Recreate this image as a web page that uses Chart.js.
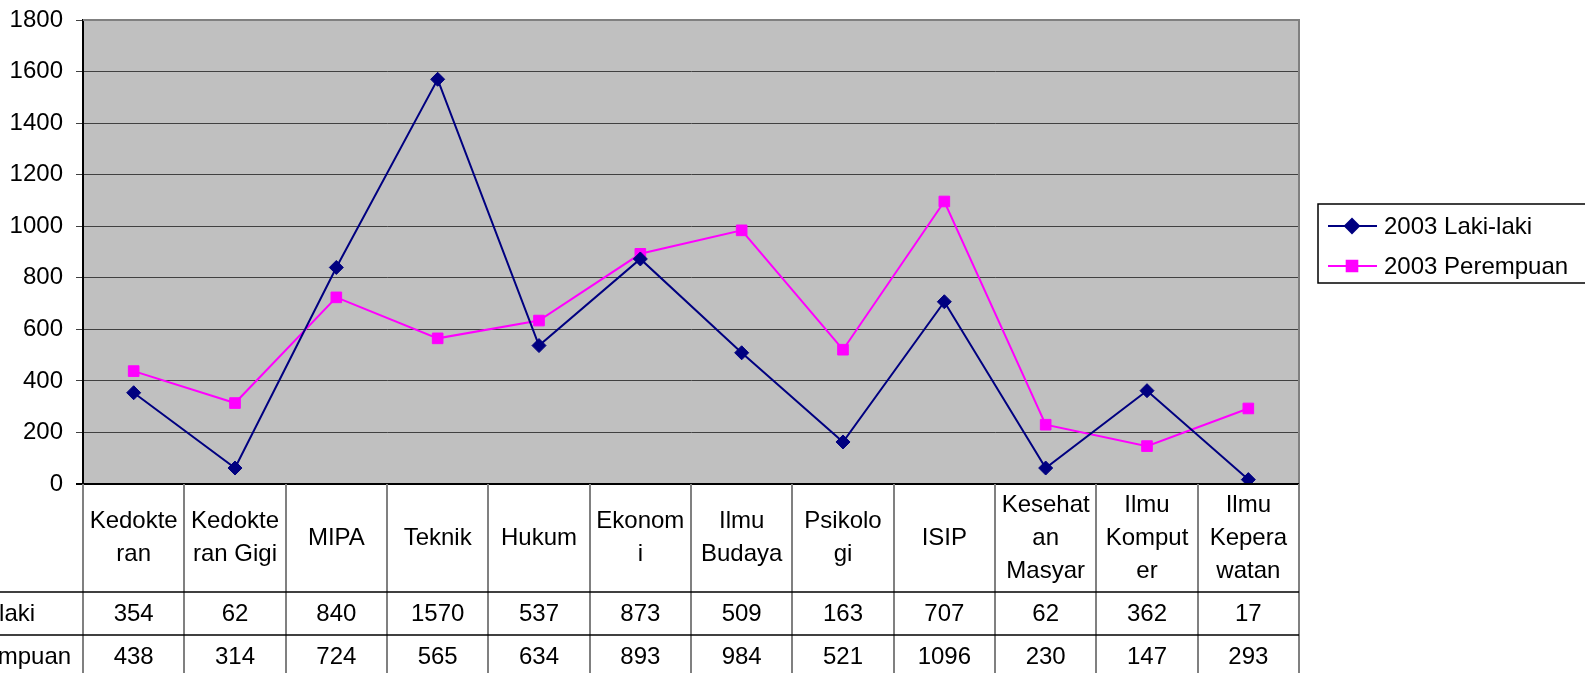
<!DOCTYPE html>
<html>
<head>
<meta charset="utf-8">
<script src="https://cdn.jsdelivr.net/npm/chart.js@4"></script>
<style>
  html, body { margin: 0; padding: 0; background: #fff; overflow: hidden; }
  canvas { display: block; }
</style>
</head>
<body>
<canvas id="c" width="1585" height="673"></canvas>
<script>
// Jumlah mahasiswa 2003 per fakultas — line chart with data table underneath

const categories = [
  ['Kedokte', 'ran'], ['Kedokte', 'ran Gigi'], ['MIPA'], ['Teknik'], ['Hukum'],
  ['Ekonom', 'i'], ['Ilmu', 'Budaya'], ['Psikolo', 'gi'], ['ISIP'],
  ['Kesehat', 'an', 'Masyar'], ['Ilmu', 'Komput', 'er'], ['Ilmu', 'Kepera', 'watan']
];
const lakiLaki = [354, 62, 840, 1570, 537, 873, 509, 163, 707, 62, 362, 17];
const perempuan = [438, 314, 724, 565, 634, 893, 984, 521, 1096, 230, 147, 293];
const seriesNames = ['2003 Laki-laki', '2003 Perempuan'];

const FAMILY = '"Liberation Sans", Arial, sans-serif';
const FONT = '24px ' + FAMILY;

// grey plot background + border
const plotBg = {
  id: 'plotBg',
  beforeDraw(chart) {
    const { ctx, chartArea: a } = chart;
    ctx.save();
    ctx.fillStyle = '#c0c0c0';
    ctx.fillRect(a.left, a.top, a.right - a.left, a.bottom - a.top);
    ctx.restore();
  },
  afterDatasetsDraw(chart) {
    const { ctx, chartArea: a } = chart;
    ctx.save();
    ctx.strokeStyle = '#808080';
    ctx.lineWidth = 2;
    ctx.beginPath();
    ctx.moveTo(a.left, a.top); ctx.lineTo(a.right, a.top); ctx.lineTo(a.right, a.bottom);
    ctx.stroke();
    ctx.strokeStyle = '#000';
    ctx.beginPath();
    ctx.moveTo(a.left - 7, a.bottom); ctx.lineTo(a.right, a.bottom);
    ctx.stroke();
    ctx.restore();
  }
};

// data table under the plot, columns follow the x scale
const dataTable = {
  id: 'dataTable',
  afterDraw(chart) {
    const { ctx, chartArea: a, scales: { x } } = chart;
    const n = chart.data.labels.length;
    const half = (x.getPixelForValue(1) - x.getPixelForValue(0)) / 2;
    const bottom = chart.height;
    const catH = 108, rowH = 43, lineH = 33;
    const row1 = a.bottom + catH, row2 = row1 + rowH;

    ctx.save();
    ctx.strokeStyle = '#808080';
    ctx.lineWidth = 2;
    for (let i = 0; i <= n; i++) {
      const xb = Math.round(x.getPixelForValue(0) - half + i * 2 * half);
      ctx.beginPath(); ctx.moveTo(xb, a.bottom); ctx.lineTo(xb, bottom); ctx.stroke();
    }
    ctx.strokeStyle = '#000';
    ctx.lineWidth = 1.5;
    const right = x.getPixelForValue(n - 1) + half;
    [row1, row2].forEach(y => {
      ctx.beginPath(); ctx.moveTo(0, y); ctx.lineTo(right, y); ctx.stroke();
    });

    ctx.fillStyle = '#000';
    ctx.font = FONT;
    ctx.textAlign = 'center';
    ctx.textBaseline = 'middle';
    chart.data.labels.forEach((lines, i) => {
      const cx = x.getPixelForValue(i);
      const y0 = a.bottom + catH / 2 - (lines.length - 1) * lineH / 2;
      lines.forEach((t, k) => ctx.fillText(t, cx, y0 + k * lineH));
    });
    chart.data.datasets.forEach((ds, d) => {
      const cy = (d === 0 ? row1 : row2) + rowH / 2 + 1;
      ds.data.forEach((v, i) => ctx.fillText(String(v), x.getPixelForValue(i), cy));
      ctx.textAlign = 'left';
      ctx.fillText(ds.label, -113, cy);
      ctx.textAlign = 'center';
    });
    ctx.restore();
  }
};

// boxed legend on the right
const boxLegend = {
  id: 'boxLegend',
  afterDraw(chart) {
    const { ctx } = chart;
    const bx = 1318, by = 204, bw = 300, bh = 79;
    ctx.save();
    ctx.fillStyle = '#fff';
    ctx.fillRect(bx, by, bw, bh);
    ctx.strokeStyle = '#000';
    ctx.lineWidth = 1.5;
    ctx.strokeRect(bx, by, bw, bh);
    ctx.font = FONT;
    ctx.textBaseline = 'middle';
    ctx.textAlign = 'left';
    chart.data.datasets.forEach((ds, i) => {
      const y = 226 + i * 40;
      ctx.strokeStyle = ds.borderColor;
      ctx.lineWidth = ds.borderWidth;
      ctx.beginPath(); ctx.moveTo(1328, y); ctx.lineTo(1377, y); ctx.stroke();
      ctx.fillStyle = ds.pointBackgroundColor;
      ctx.strokeStyle = ds.pointBorderColor;
      Chart.helpers.drawPoint(ctx, { pointStyle: ds.pointStyle, radius: ds.pointRadius, rotation: 0, borderWidth: 1 }, 1352, y);
      ctx.fillStyle = '#000';
      ctx.fillText(ds.label, 1384, y + 1);
    });
    ctx.restore();
  }
};

new Chart(document.getElementById('c').getContext('2d'), {
  type: 'line',
  data: {
    labels: categories,
    datasets: [
      {
        label: seriesNames[0], data: lakiLaki,
        borderColor: '#000080', borderWidth: 2,
        pointStyle: 'rectRot', pointRadius: 7,
        pointBackgroundColor: '#000080', pointBorderColor: '#000080', pointBorderWidth: 1,
        tension: 0
      },
      {
        label: seriesNames[1], data: perempuan,
        borderColor: '#ff00ff', borderWidth: 2,
        pointStyle: 'rect', pointRadius: 7.5,
        pointBackgroundColor: '#ff00ff', pointBorderColor: '#ff00ff', pointBorderWidth: 1,
        tension: 0
      }
    ]
  },
  options: {
    responsive: false,
    animation: false,
    devicePixelRatio: 1,
    layout: { padding: { top: 20, right: 286, bottom: 189, left: 0 } },
    plugins: { legend: { display: false }, tooltip: { enabled: false } },
    scales: {
      x: { display: false, offset: true },
      y: {
        min: 0, max: 1800,
        afterFit: s => { s.width = 83; s.paddingTop = 0; s.paddingBottom = 0; },
        ticks: { stepSize: 200, color: '#000', font: { family: FAMILY, size: 24 }, padding: 13, callback: v => String(v) },
        grid: { color: '#404040', lineWidth: 1, tickLength: 7 },
        border: { color: '#000', width: 2 }
      }
    }
  },
  plugins: [plotBg, dataTable, boxLegend]
});
</script>
</body>
</html>
